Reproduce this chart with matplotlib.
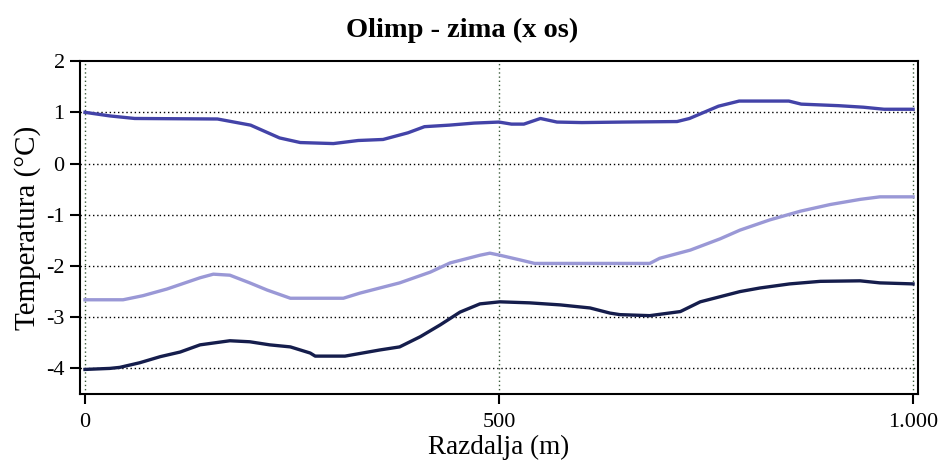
import matplotlib.pyplot as plt
import numpy as np

# distance along the x axis (m) and temperature (deg C) for three profiles
x_top = [0, 30, 60, 160, 200, 235, 260, 300, 330, 360, 390, 410, 440, 470, 500,
         515, 530, 550, 570, 600, 650, 715, 730, 765, 790, 850, 865, 910, 940, 965, 1000]
t_top = [1.0, 0.93, 0.88, 0.87, 0.75, 0.5, 0.41, 0.39, 0.45, 0.47, 0.6, 0.72, 0.75, 0.79, 0.81,
         0.77, 0.77, 0.88, 0.81, 0.8, 0.81, 0.82, 0.88, 1.12, 1.22, 1.22, 1.16, 1.13, 1.1, 1.06, 1.06]

x_mid = [0, 46, 70, 99, 139, 155, 175, 199, 220, 248, 284, 312, 332, 380, 417, 441, 477,
         489, 501, 525, 543, 646, 682, 694, 731, 767, 791, 827, 864, 900, 936, 960, 1000]
t_mid = [-2.66, -2.66, -2.58, -2.45, -2.23, -2.16, -2.18, -2.33, -2.47, -2.63, -2.63, -2.63,
         -2.53, -2.33, -2.12, -1.94, -1.79, -1.75, -1.79, -1.88, -1.95, -1.95, -1.95, -1.85,
         -1.69, -1.47, -1.3, -1.1, -0.93, -0.8, -0.7, -0.65, -0.65]

x_bot = [0, 30, 42, 66, 91, 115, 139, 175, 199, 223, 248, 272, 278, 314, 356, 380, 405, 429,
         453, 477, 501, 537, 574, 610, 634, 646, 682, 719, 743, 767, 791, 815, 851, 888, 936, 960, 1000]
t_bot = [-4.02, -4.0, -3.98, -3.89, -3.77, -3.68, -3.54, -3.46, -3.48, -3.54, -3.58, -3.7, -3.76,
         -3.76, -3.64, -3.58, -3.38, -3.15, -2.9, -2.74, -2.7, -2.72, -2.76, -2.82, -2.92, -2.95,
         -2.97, -2.89, -2.7, -2.6, -2.5, -2.43, -2.35, -2.3, -2.29, -2.33, -2.35]

x_ticks = [0, 500, 1000]
x_tick_labels = ['0', '500', '1.000']
y_ticks = [-4, -3, -2, -1, 0, 1, 2]

plt.rcParams['font.family'] = ['Liberation Serif', 'DejaVu Serif']
plt.rcParams['axes.unicode_minus'] = False

fig = plt.figure(figsize=(9.38, 4.63), dpi=100)
ax = fig.add_axes([0.0853, 0.149, 0.8934, 0.719])

ax.plot(x_top, t_top, color='#4343a8', lw=2.4)
ax.plot(x_mid, t_mid, color='#9a98d6', lw=2.4)
ax.plot(x_bot, t_bot, color='#151d4c', lw=2.4)

ax.set_xlim(-6, 1006)
ax.set_ylim(-4.5, 2)
ax.set_xticks(x_ticks)
ax.set_xticklabels(x_tick_labels)
ax.set_yticks(y_ticks)

for y in y_ticks[:-1]:
    ax.axhline(y, color='black', ls=(0, (1, 2)), lw=1, zorder=0)
for x in x_ticks:
    ax.axvline(x, color='#3a5a3a', ls=(0, (1, 2)), lw=1, zorder=0)

for side in ax.spines.values():
    side.set_linewidth(1.5)
ax.tick_params(direction='out', length=7, width=1.5, labelsize=16, pad=4)
ax.tick_params(axis='x', pad=7)

fig.text(462 / 938, 1 - 30 / 463, 'Olimp - zima (x os)', fontsize=20.5,
         fontweight='bold', ha='center', va='center')
ax.set_xlabel('Razdalja (m)', fontsize=19.5, labelpad=2)
ax.set_ylabel('Temperatura (°C)', fontsize=21, labelpad=4)

fig.savefig('out.png', dpi=100)
